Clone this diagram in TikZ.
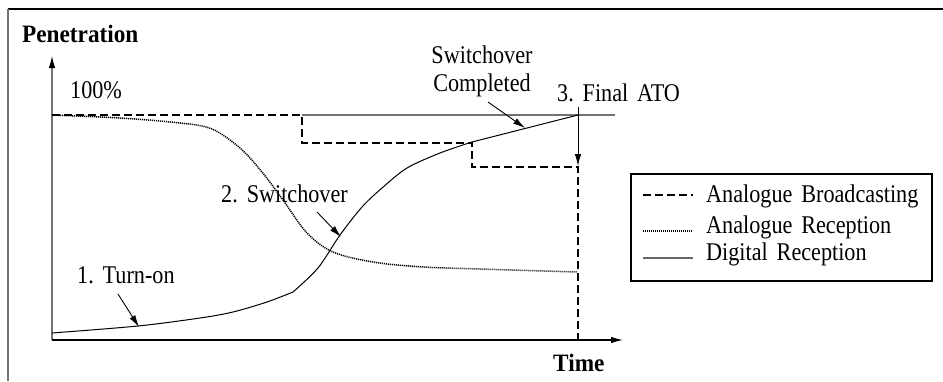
\documentclass[tikz,border=0pt]{standalone}
\usepackage{fontspec}
\setmainfont{Liberation Serif}
\newfontfamily\lblfont{Liberation Serif}[FakeStretch=0.87,WordSpace=1.6]
\newfontfamily\axfont{Liberation Serif}[FakeStretch=0.93]
\usetikzlibrary{arrows.meta}
\begin{document}
\begin{tikzpicture}[x=1pt,y=-1pt,
  lbl/.style={inner sep=0pt,font=\lblfont\fontsize{25.5}{30}\selectfont},
  axlbl/.style={inner sep=0pt,font=\axfont\bfseries\fontsize{25}{30}\selectfont},
  axis/.style={line width=1.2pt,-{Latex[length=12pt,width=6.5pt,color=black]}},
  pointer/.style={line width=0.9pt,-{Latex[length=12pt,width=6.5pt]}},
  bcast/.style={line width=1.6pt,dash pattern=on 7.5pt off 4.5pt},
  anrec/.style={line width=1.5pt,dash pattern=on 1.1pt off 0.9pt},
  digrec/.style={line width=1pt},
  refline/.style={line width=1.2pt,draw=black!55}]
\useasboundingbox (0,0) rectangle (943,381);

% outer frame
\draw[line width=2pt] (8,9) -- (943,9);
\draw[line width=1.5pt,draw=black!55] (8,9) -- (8,381);

% axes
\coordinate (O) at (52,340);
\coordinate (ytip) at (52,56);
\coordinate (xtip) at (623,340);
\draw[axis,draw=black!55] (O) -- (ytip);
\draw[axis] (O) -- (xtip);
\node[axlbl,anchor=base west] (pen) at (22,42) {Penetration};
\node[axlbl,anchor=base west] (time) at (553,371) {Time};
\node[lbl,anchor=base west] (full) at (70,98) {100\%};

% 100% reference level
\draw[refline] (302,115) -- (615,115);

% analogue broadcasting (stepwise)
\draw[bcast] (52,115) -- (302,115) -- (302,143) -- (472,143) -- (472,167)
  -- (578,167) -- (578,340);

% analogue reception
\draw[anrec] plot[smooth,tension=0.55] coordinates {(52,115) (120,118) (180,123)
  (212,129) (240,148) (262,172) (283,200) (307,233) (333,252) (373,262)
  (423,267) (480,269) (577,272)};

% digital reception
\draw[digrec] plot[smooth,tension=0.5] coordinates {(52,333) (138,326) (200,318)
  (233,312) (267,302) (293,292)};
\draw[digrec] plot[smooth,tension=0.5] coordinates {(293,292) (318,268)
  (340,235) (362,207) (382,188) (407,168) (440,153) (472,142)};
\draw[digrec] (472,142) -- (578,115);

% annotations
\coordinate (c1) at (139,327);
\coordinate (c2) at (341,237);
\coordinate (c3) at (525,128);
\coordinate (c4) at (578,166);
\node[lbl,anchor=base west] (turnon) at (77,283) {1.\ Turn-on};
\node[lbl,anchor=base east] (swo) at (348,202) {2.\ Switchover};
\node[lbl,anchor=base] (swc) at (482,63) {Switchover};
\node[lbl,anchor=base] (swc2) at (482,91) {Completed};
\node[lbl,anchor=base west] (ato) at (557,101) {3.\ Final ATO};
\draw[pointer] (118,294) -- (c1);
\draw[pointer] (317,212) -- (c2);
\draw[pointer] (488,102) -- (c3);
\draw[pointer] (578,107) -- (c4);

% legend
\node[draw,line width=1.5pt,minimum width=301pt,minimum height=107pt,
  inner sep=0pt,anchor=north west] (legend) at (630,173) {};
\draw[bcast] (643,195) -- (693,195);
\draw[anrec] (643,231) -- (693,231);
\draw[digrec,draw=black!60,line width=1.2pt] (643,258) -- (693,258);
\node[lbl,anchor=base west] (l1) at (706,202) {Analogue Broadcasting};
\node[lbl,anchor=base west] (l2) at (706,233) {Analogue Reception};
\node[lbl,anchor=base west] (l3) at (706,260) {Digital Reception};
\end{tikzpicture}
\end{document}
